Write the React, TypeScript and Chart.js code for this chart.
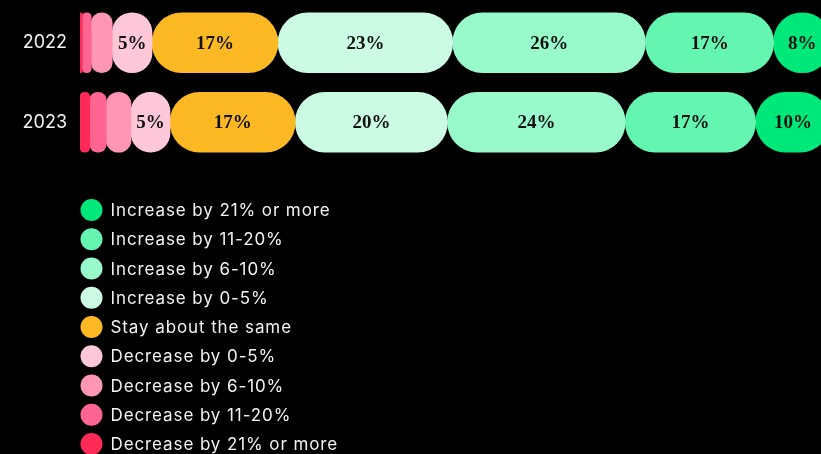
import React, { useEffect, useRef } from "react";
import { Chart, registerables } from "chart.js";

Chart.register(...registerables);

const categories = ["2022", "2023"];
const seriesLabels = [
  "Decrease by 21% or more",
  "Decrease by 11-20%",
  "Decrease by 6-10%",
  "Decrease by 0-5%",
  "Stay about the same",
  "Increase by 0-5%",
  "Increase by 6-10%",
  "Increase by 11-20%",
  "Increase by 21% or more",
];
const decrease21 = [0.3, 1.3];
const decrease11to20 = [1.2, 2.2];
const decrease6to10 = [2.8, 3.3];
const decrease0to5 = [5.3, 5.2];
const staySame = [16.8, 16.7];
const increase0to5 = [23.3, 20.3];
const increase6to10 = [25.7, 23.7];
const increase11to20 = [17.1, 17.4];
const increase21 = [7.6, 9.9];
const seriesColors = [
  "#ff2a55",
  "#ff6592",
  "#ff96b5",
  "#ffc8d9",
  "#fdb924",
  "#cbfbe3",
  "#98f9cb",
  "#64f5b1",
  "#00e87a",
];

const barLabelPlugin = {
  id: "barLabels",
  afterDatasetsDraw(chart: any) {
    const ctx = chart.ctx;
    ctx.save();
    ctx.font = "bold 19px 'Liberation Serif', serif";
    ctx.fillStyle = "#111";
    ctx.textAlign = "center";
    ctx.textBaseline = "middle";
    chart.data.datasets.forEach((ds: any, di: number) => {
      const meta = chart.getDatasetMeta(di);
      meta.data.forEach((bar: any, i: number) => {
        const v = ds.data[i];
        if (v < 4) return;
        const { x, base, y } = bar.getProps(["x", "base", "y"], true);
        ctx.fillText(Math.round(v) + "%", (x + base) / 2, y + 1);
      });
    });
    ctx.restore();
  },
};

const legendPlugin = {
  id: "columnLegend",
  afterDraw(chart: any) {
    const ctx = chart.ctx;
    const ds = chart.data.datasets;
    ctx.save();
    ctx.font = "17px Inter, sans-serif";
    try {
      ctx.letterSpacing = "0.9px";
    } catch (e) {}
    ctx.textAlign = "left";
    ctx.textBaseline = "middle";
    const x0 = chart.chartArea.left;
    let y = 210;
    for (let k = ds.length - 1; k >= 0; k--) {
      ctx.beginPath();
      ctx.fillStyle = ds[k].backgroundColor;
      ctx.arc(x0 + 11.5, y, 11, 0, Math.PI * 2);
      ctx.fill();
      ctx.fillStyle = "#f2f2f2";
      ctx.fillText(ds[k].label, x0 + 30.5, y + 1);
      y += 29.25;
    }
    ctx.restore();
  },
};

export default function App() {
  const ref = useRef<HTMLCanvasElement>(null);
  useEffect(() => {
    document.body.style.margin = "0";
    document.body.style.background = "#000";
    document.body.style.overflow = "hidden";
    const values = [
      decrease21,
      decrease11to20,
      decrease6to10,
      decrease0to5,
      staySame,
      increase0to5,
      increase6to10,
      increase11to20,
      increase21,
    ];
    const r = 30;
    const chart = new Chart(ref.current!, {
      type: "bar",
      data: {
        labels: categories,
        datasets: values.map((d, i) => ({
          label: seriesLabels[i],
          data: d,
          backgroundColor: seriesColors[i],
          borderWidth: 0,
          borderSkipped: false,
          borderRadius: { topLeft: r, topRight: r, bottomLeft: r, bottomRight: r },
          barThickness: 60,
        })),
      },
      options: {
        indexAxis: "y",
        responsive: false,
        animation: false,
        layout: { padding: { top: 3, right: 10, bottom: 292, left: 0 } },
        plugins: { legend: { display: false }, tooltip: { enabled: false } },
        scales: {
          x: { stacked: true, min: 0, max: 100, display: false },
          y: {
            stacked: true,
            grid: { display: false, drawTicks: false },
            border: { display: false },
            ticks: { color: "#f2f2f2", font: { size: 18, family: "Inter" }, padding: 13 },
            afterFit: (scale: any) => {
              scale.width = 80;
              scale.paddingTop = 0;
              scale.paddingBottom = 0;
            },
          },
        },
      },
      plugins: [barLabelPlugin, legendPlugin],
    } as any);
    return () => chart.destroy();
  }, []);
  return (
    <div style={{ width: 840, height: 454, background: "#000" }}>
      <canvas ref={ref} width={840} height={454} style={{ display: "block" }} />
    </div>
  );
}
